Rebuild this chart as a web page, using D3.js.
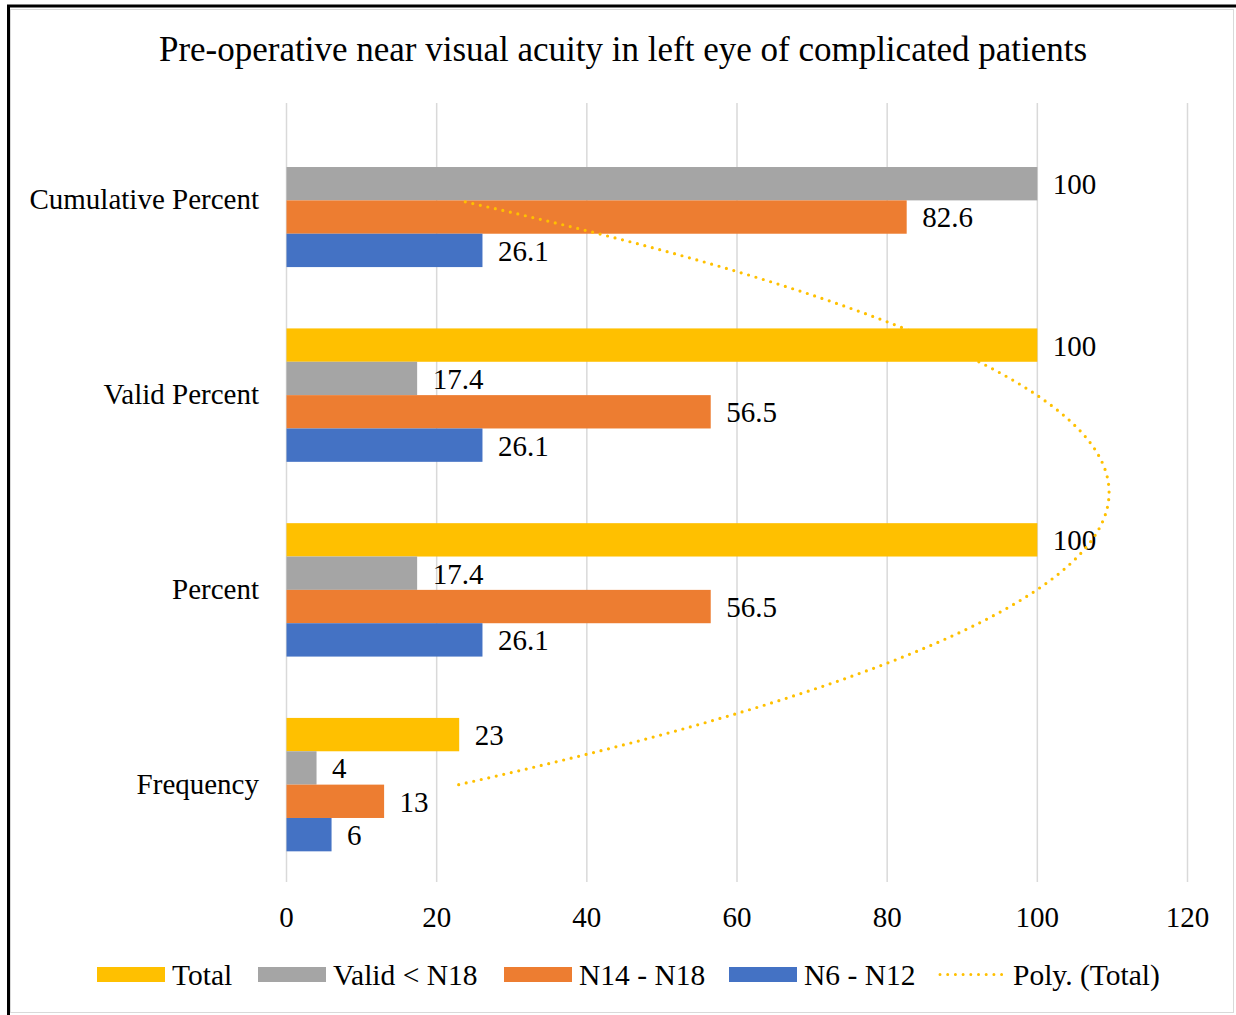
<!DOCTYPE html>
<html>
<head>
<meta charset="utf-8">
<script src="https://cdn.jsdelivr.net/npm/d3@7"></script>
<style>
  body { margin: 0; background: #fff; }
  text { font-family: "Liberation Serif", "Times New Roman", serif; fill: #000; }
</style>
</head>
<body>
<div id="chart"></div>
<script>
// categories bottom -> top, as in the sheet
var categories = ["Frequency", "Percent", "Valid Percent", "Cumulative Percent"];
var seriesNames = ["Total", "Valid < N18", "N14 - N18", "N6 - N12"];
var totalVals = [23, 100, 100, null];
var validVals = [4, 17.4, 17.4, 100];
var n14Vals = [13, 56.5, 56.5, 82.6];
var n6Vals = [6, 26.1, 26.1, 26.1];
var xTicks = [0, 20, 40, 60, 80, 100, 120];
var colors = ["#FFC000", "#A5A5A5", "#ED7D31", "#4472C4"];

var width = 1236, height = 1015;
var plot = { left: 286, right: 1187, top: 103, bottom: 882 };

var seriesVals = [totalVals, validVals, n14Vals, n6Vals];

var svg = d3.select("#chart").append("svg")
    .attr("width", width).attr("height", height);

// frame
svg.append("rect").attr("x", 10.5).attr("y", 9.5).attr("width", 1223).attr("height", 1003)
    .attr("fill", "#fff").attr("stroke", "#d9d9d9").attr("stroke-width", 1);
svg.append("line").attr("x1", 7).attr("x2", width).attr("y1", 6).attr("y2", 6)
    .attr("stroke", "#000").attr("stroke-width", 3);
svg.append("line").attr("x1", 8.5).attr("x2", 8.5).attr("y1", 5).attr("y2", height)
    .attr("stroke", "#000").attr("stroke-width", 3);

svg.append("text").attr("x", 623).attr("y", 61).attr("text-anchor", "middle")
    .style("font-size", "35px")
    .text("Pre-operative near visual acuity in left eye of complicated patients");

var x = d3.scaleLinear().domain([0, 120]).range([plot.left, plot.right]);

var y = d3.scaleBand()
    .domain(categories.slice().reverse())
    .range([plot.top, plot.bottom])
    .paddingInner(0.315).paddingOuter(0.1575);

var ySub = d3.scaleBand().domain(seriesNames).range([0, y.bandwidth()]);

// gridlines
svg.append("g").selectAll("line").data(xTicks).enter().append("line")
    .attr("x1", function(d) { return x(d) + 0.5; })
    .attr("x2", function(d) { return x(d) + 0.5; })
    .attr("y1", plot.top).attr("y2", plot.bottom)
    .attr("stroke", "#d9d9d9").attr("stroke-width", 1.5);

// x tick labels
var xAxis = d3.axisBottom(x).tickValues(xTicks).tickSize(0).tickPadding(0);
var gx = svg.append("g").attr("transform", "translate(0," + 927 + ")").call(xAxis);
gx.select(".domain").remove();
gx.selectAll("text").attr("dy", 0).attr("y", 0)
    .style("font-size", "29px").style("font-family", "'Liberation Serif', serif").attr("fill", "#000");

// category labels
svg.append("g").selectAll("text").data(categories).enter().append("text")
    .attr("x", 259).attr("y", function(d) { return y(d) + y.bandwidth() / 2; })
    .attr("dy", "0.31em").attr("text-anchor", "end")
    .style("font-size", "29px")
    .text(function(d) { return d; });

// bars
var rows = [];
categories.forEach(function(c, i) {
    seriesNames.forEach(function(s, j) {
        if (seriesVals[j][i] != null) rows.push({ cat: c, series: s, value: seriesVals[j][i], color: colors[j] });
    });
});

svg.append("g").selectAll("rect").data(rows).enter().append("rect")
    .attr("x", x(0) + 0.5)
    .attr("y", function(d) { return y(d.cat) + ySub(d.series); })
    .attr("width", function(d) { return x(d.value) - x(0); })
    .attr("height", ySub.bandwidth())
    .attr("fill", function(d) { return d.color; });

svg.append("g").selectAll("text").data(rows).enter().append("text")
    .attr("x", function(d) { return x(d.value) + 16; })
    .attr("y", function(d) { return y(d.cat) + ySub(d.series) + ySub.bandwidth() / 2; })
    .attr("dy", "0.36em")
    .style("font-size", "29px")
    .text(function(d) { return d.value; });

// polynomial trendline (order 2) on Total, fitted on category index
var pts = [];
totalVals.forEach(function(v, i) { if (v != null) pts.push([i + 1, v]); });
function polyFit2(p) {
    var s = [0, 0, 0, 0, 0], t = [0, 0, 0];
    p.forEach(function(q) {
        for (var k = 0; k < 5; k++) s[k] += Math.pow(q[0], k);
        for (var k = 0; k < 3; k++) t[k] += Math.pow(q[0], k) * q[1];
    });
    var m = [[s[0], s[1], s[2], t[0]], [s[1], s[2], s[3], t[1]], [s[2], s[3], s[4], t[2]]];
    for (var c = 0; c < 3; c++) {
        for (var r = c + 1; r < 3; r++) {
            var f = m[r][c] / m[c][c];
            for (var k = c; k < 4; k++) m[r][k] -= f * m[c][k];
        }
    }
    var b = [0, 0, 0];
    for (var r = 2; r >= 0; r--) {
        var acc = m[r][3];
        for (var k = r + 1; k < 3; k++) acc -= m[r][k] * b[k];
        b[r] = acc / m[r][r];
    }
    return b;
}
var coef = polyFit2(pts);
var yIdx = d3.scaleLinear().domain([1, categories.length])
    .range([y(categories[0]) + y.bandwidth() / 2, y(categories[categories.length - 1]) + y.bandwidth() / 2]);
var curve = d3.range(1, categories.length + 0.001, 0.02).map(function(t) {
    return [t, coef[0] + coef[1] * t + coef[2] * t * t];
});
svg.append("path").datum(curve)
    .attr("d", d3.line().x(function(d) { return x(d[1]); }).y(function(d) { return yIdx(d[0]); }))
    .attr("fill", "none").attr("stroke", colors[0]).attr("stroke-width", 3.2)
    .attr("stroke-linecap", "round").attr("stroke-dasharray", "0 7.7");

// legend
var legendItems = [
    { name: "Total", color: colors[0], x: 97 },
    { name: "Valid < N18", color: colors[1], x: 258 },
    { name: "N14 - N18", color: colors[2], x: 504 },
    { name: "N6 - N12", color: colors[3], x: 729 }
];
var lg = svg.append("g");
legendItems.forEach(function(it) {
    lg.append("rect").attr("x", it.x).attr("y", 967).attr("width", 68).attr("height", 15).attr("fill", it.color);
    lg.append("text").attr("x", it.x + 75).attr("y", 985).style("font-size", "29.5px").text(it.name);
});
lg.append("line").attr("x1", 940).attr("x2", 1002).attr("y1", 974.5).attr("y2", 974.5)
    .attr("stroke", colors[0]).attr("stroke-width", 3)
    .attr("stroke-linecap", "round").attr("stroke-dasharray", "0 7.7");
lg.append("text").attr("x", 1013).attr("y", 985).style("font-size", "29.5px").text("Poly. (Total)");
</script>
</body>
</html>
